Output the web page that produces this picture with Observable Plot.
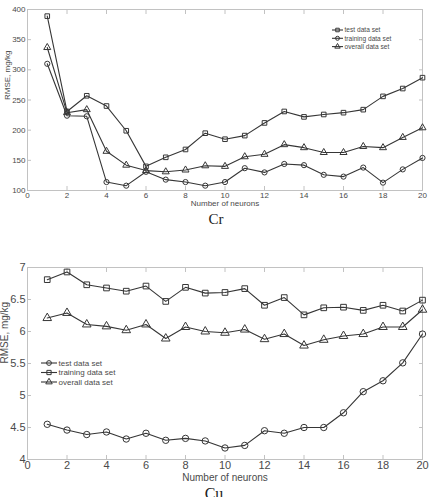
<!DOCTYPE html>
<html>
<head>
<meta charset="utf-8">
<script src="https://cdn.jsdelivr.net/npm/d3@7"></script>
<script src="https://cdn.jsdelivr.net/npm/@observablehq/plot@0.6"></script>
<style>
  body { margin: 0; background: #fff; }
  #chart { position: relative; width: 430px; height: 497px; overflow: hidden; background: #fff; }
  #chart svg { display: block; }
</style>
</head>
<body>
<div id="chart"></div>
<script>
// Number of hidden neurons (x axis)
const neurons = [1, 2, 3, 4, 5, 6, 7, 8, 9, 10, 11, 12, 13, 14, 15, 16, 17, 18, 19, 20];
const xTicks = [0, 2, 4, 6, 8, 10, 12, 14, 16, 18, 20];
const seriesNames = ["test data set", "training data set", "overall data set"];

// Cr: RMSE, mg/kg
const crTest    = [389, 231, 257, 240, 199, 140, 155, 168, 195, 185, 191, 212, 231, 222, 226, 229, 234, 256, 269, 287];
const crTrain   = [310, 224, 223, 114, 108, 131, 118, 114, 108, 114, 137, 130, 144, 142, 126, 123, 138, 113, 135, 154];
const crOverall = [337, 229, 234, 165, 142, 133, 131, 134, 141, 140, 156, 160, 176, 171, 163, 163, 173, 171, 188, 204];
const crYTicks  = [100, 150, 200, 250, 300, 350, 400];

// Cu: RMSE, mg/kg
const cuTest    = [4.55, 4.46, 4.39, 4.43, 4.32, 4.41, 4.30, 4.33, 4.29, 4.18, 4.22, 4.45, 4.41, 4.50, 4.50, 4.73, 5.06, 5.23, 5.51, 5.96];
const cuTrain   = [6.81, 6.93, 6.73, 6.68, 6.63, 6.71, 6.47, 6.69, 6.60, 6.61, 6.67, 6.41, 6.53, 6.26, 6.37, 6.38, 6.33, 6.41, 6.32, 6.49];
const cuOverall = [6.21, 6.29, 6.11, 6.08, 6.02, 6.11, 5.89, 6.07, 6.00, 5.98, 6.03, 5.88, 5.96, 5.78, 5.87, 5.93, 5.96, 6.07, 6.07, 6.34];
const cuYTicks  = [4, 4.5, 5, 5.5, 6, 6.5, 7];

const INK = "#363636";
const FRAME = "#c2c2c2";
const LABEL = "#4a4a4a";

function rowsOf(valuesBySeries) {
  const rows = [];
  seriesNames.forEach((s, k) => {
    valuesBySeries[k].forEach((v, i) => rows.push({n: neurons[i], v, s}));
  });
  return rows;
}

function panel(cfg) {
  const rows = rowsOf(cfg.values);
  const tick = 4;
  const svg = Plot.plot({
    width: 430,
    height: cfg.height,
    marginLeft: 27,
    marginRight: 8,
    marginTop: cfg.marginTop,
    marginBottom: cfg.marginBottom,
    style: {fontFamily: "'Liberation Sans', Arial, sans-serif", fontSize: cfg.font + "px", background: "white", overflow: "visible"},
    x: {domain: [0, 20], label: null},
    y: {domain: cfg.yDomain, label: null},
    symbol: {domain: seriesNames, range: cfg.symbols},
    marks: [
      Plot.frame({stroke: FRAME}),
      // inward tick marks on all four sides
      Plot.axisX({anchor: "bottom", ticks: xTicks, tickSize: tick, dy: -tick, tickFormat: () => "", stroke: FRAME, label: null}),
      Plot.axisX({anchor: "top", ticks: xTicks, tickSize: tick, dy: tick, tickFormat: () => "", stroke: FRAME, label: null}),
      Plot.axisY({anchor: "left", ticks: cfg.yTicks, tickSize: tick, dx: tick, tickFormat: () => "", stroke: FRAME, label: null}),
      Plot.axisY({anchor: "right", ticks: cfg.yTicks, tickSize: tick, dx: -tick, tickFormat: () => "", stroke: FRAME, label: null}),
      // tick labels
      Plot.axisX({anchor: "bottom", ticks: xTicks, tickSize: 0, tickPadding: cfg.xPad, fill: LABEL, label: null}),
      Plot.axisY({anchor: "left", ticks: cfg.yTicks, tickSize: 0, tickPadding: 2, fill: LABEL, label: null, tickFormat: d3.format("~g")}),
      // axis titles and panel caption
      Plot.text(["RMSE, mg/kg"], {text: d => d, frameAnchor: "left", rotate: -90, dx: cfg.yLabelDx, fill: LABEL, fontSize: cfg.titleFont}),
      Plot.text(["Number of neurons"], {text: d => d, frameAnchor: "bottom", dy: cfg.xLabelDy, fill: LABEL, fontSize: cfg.titleFont}),
      Plot.text([cfg.caption], {text: d => d, frameAnchor: "bottom", dy: cfg.captionDy, dx: cfg.captionDx,
        fontFamily: "'Liberation Serif', 'Times New Roman', serif", fontSize: cfg.captionSize, fill: "#222"}),
      // series
      Plot.line(rows, {x: "n", y: "v", z: "s", stroke: INK, strokeWidth: 1.1}),
      Plot.dot(rows, {x: "n", y: "v", symbol: "s", stroke: INK, fill: "none", r: cfg.r, strokeWidth: 1})
    ]
  });

  // legend entries: line sample with marker, then the series name
  const g = d3.select(svg).append("g")
    .attr("font-family", "'Liberation Sans', Arial, sans-serif")
    .attr("font-size", cfg.legend.font)
    .attr("text-anchor", "start");
  const symbolType = {circle: d3.symbolCircle, square: d3.symbolSquare, triangle: d3.symbolTriangle};
  seriesNames.forEach((name, k) => {
    const y = cfg.legend.y0 + k * cfg.legend.dy;
    const {x1, x2} = cfg.legend;
    g.append("line").attr("x1", x1).attr("x2", x2).attr("y1", y).attr("y2", y)
      .attr("stroke", INK).attr("stroke-width", 1.1);
    g.append("path")
      .attr("d", d3.symbol(symbolType[cfg.symbols[k]], Math.PI * cfg.legend.r * cfg.legend.r)())
      .attr("transform", `translate(${(x1 + x2) / 2},${y})`)
      .attr("fill", "none").attr("stroke", INK);
    g.append("text").attr("x", x2 + 1.5).attr("y", y).attr("dy", "0.35em")
      .attr("text-anchor", "start")
      .attr("fill", LABEL).text(name);
  });

  svg.style.position = "absolute";
  svg.style.left = "0px";
  svg.style.top = cfg.top + "px";
  return svg;
}

const chart = document.getElementById("chart");

chart.appendChild(panel({
  top: 0, height: 240, marginTop: 9, marginBottom: 50,
  values: [crTest, crTrain, crOverall],
  symbols: ["square", "circle", "triangle"],
  yDomain: [100, 400], yTicks: crYTicks,
  font: 8, titleFont: 8, xPad: 2, r: 2.6,
  yLabelDx: -20, xLabelDy: 15.5,
  caption: "Cr", captionDy: 33, captionDx: -9, captionSize: 15,
  legend: {x1: 332, x2: 343, y0: 30, dy: 8.3, font: 6.6, r: 2}
}));

chart.appendChild(panel({
  top: 240, height: 257, marginTop: 27, marginBottom: 38,
  values: [cuTest, cuTrain, cuOverall],
  symbols: ["circle", "square", "triangle"],
  yDomain: [4, 7], yTicks: cuYTicks,
  font: 11, titleFont: 10, xPad: 2, r: 3.2,
  yLabelDx: -22.5, xLabelDy: 21,
  caption: "Cu", captionDy: 39, captionDx: -11, captionSize: 16,
  legend: {x1: 41, x2: 57, y0: 123, dy: 9.5, font: 8, r: 2.4}
}));
</script>
</body>
</html>
